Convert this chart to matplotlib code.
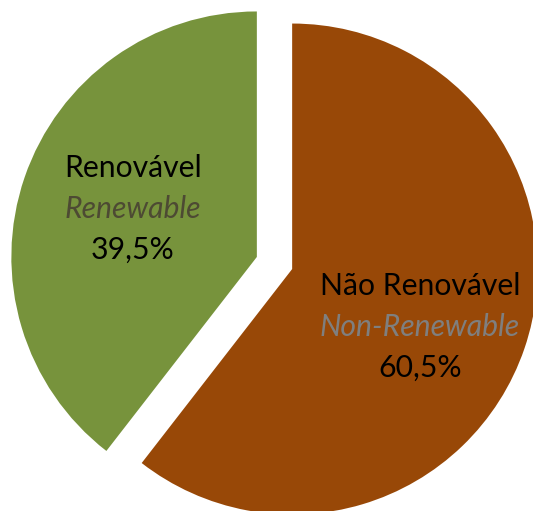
import matplotlib.pyplot as plt

# energy mix shares (%)
labels_pt = ["Não Renovável", "Renovável"]
labels_en = ["Non-Renewable", "Renewable"]
shares = [60.5, 39.5]
colors = ["#984807", "#77933C"]
en_colors = ["#7F7F7F", "#4D4A33"]

plt.rcParams["font.family"] = ["Lato", "DejaVu Sans"]

fig = plt.figure(figsize=(5.33, 5.11), dpi=100)
ax = fig.add_axes([0, 0, 1, 1])

wedges, _ = ax.pie(
    shares,
    colors=colors,
    startangle=90,
    counterclock=False,
    explode=[0.076, 0.076],
    radius=1.0,
    wedgeprops={"linewidth": 0},
)

# pixel layout: pie centre at (274.5, 263), radius 245.5 px
r_px = 245.5
cx, cy = 274.5, 263
ax.set_aspect("auto")
ax.set_xlim(-cx / r_px, (533 - cx) / r_px)
ax.set_ylim(-(511 - cy) / r_px, cy / r_px)
ax.axis("off")


def px(x, y):
    return (x - cx) / r_px, (cy - y) / r_px


label_pos = [(420, 286), (133, 168)]
step = 41
fs = 21.7
for i in range(len(shares)):
    x0, y0 = label_pos[i]
    ax.text(*px(x0, y0), labels_pt[i], ha="center", va="center",
            fontsize=fs, color="black")
    ax.text(*px(x0, y0 + step), labels_en[i], ha="center", va="center",
            fontsize=fs, color=en_colors[i], style="italic")
    ax.text(*px(x0, y0 + 2 * step), f"{shares[i]:.1f}%".replace(".", ","),
            ha="center", va="center", fontsize=fs, color="black")

fig.savefig("out.png", dpi=100)
